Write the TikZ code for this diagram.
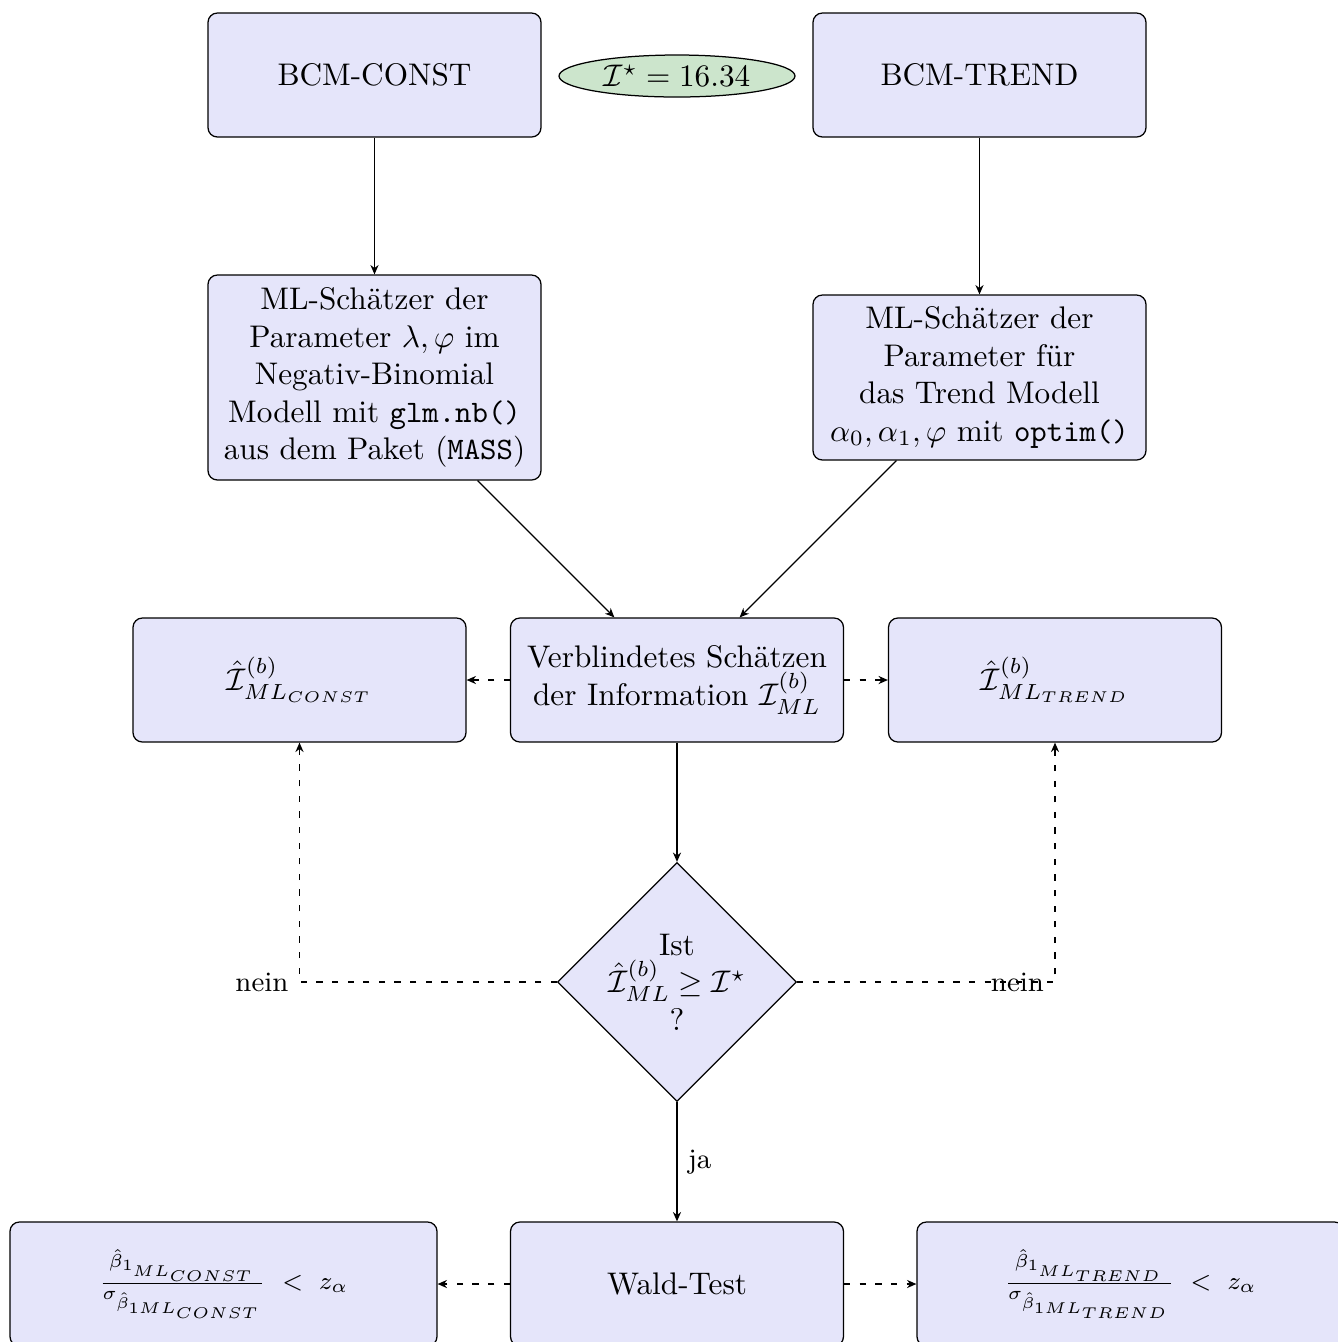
\documentclass[tikz,border=0pt]{standalone}
\usetikzlibrary{shapes.geometric,arrows.meta}
\definecolor{boxblue}{rgb}{0.898,0.898,0.98}
\definecolor{ellgreen}{rgb}{0.80,0.90,0.80}
\begin{document}
\begin{tikzpicture}[x=0.32pt,y=-0.32pt,
  box/.style={draw,fill=boxblue,rounded corners=3pt,align=center,minimum width=106.56pt,minimum height=39.68pt,inner sep=2pt},
  widebox/.style={box,minimum width=136.64pt,font=\footnotesize},
  decision/.style={draw,fill=boxblue,diamond,aspect=1,inner sep=0pt,minimum width=76.48pt,minimum height=76.48pt},
  goal/.style={draw,fill=ellgreen,ellipse,inner sep=0pt,minimum width=75.52pt,minimum height=13.44pt},
  lbl/.style={font=\small},
  arr/.style={-{Stealth[length=3pt,width=2.6pt]}},
  darr/.style={arr,dash pattern=on 2pt off 3pt}]
\useasboundingbox (0,0) rectangle (1338,1342);
\node[box] (bc) at (374.5,75) {BCM-CONST};
\node[goal] (goal) at (677,76) {$\mathcal{I}^\star = 16.34$};
\node[box] (bt) at (979.5,75) {BCM-TREND};
\node[box,minimum height=65.6pt] (mlc) at (374.5,377.5) {ML-Schätzer der\\ Parameter $\lambda,\varphi$ im\\ Negativ-Binomial\\ Modell mit \texttt{glm.nb()}\\ aus dem Paket (\texttt{MASS})};
\node[box,minimum height=52.8pt] (mlt) at (979.5,377.5) {ML-Schätzer der\\ Parameter für\\ das Trend Modell\\ $\alpha_0,\alpha_1,\varphi$ mit \texttt{optim()}};
\node[box] (ic) at (299.5,680) {$\hat{\mathcal{I}}^{(b)}_{ML_{CONST}}$};
\node[box] (verb) at (677,680) {Verblindetes Schätzen\\ der Information $\mathcal{I}^{(b)}_{ML}$};
\node[box] (it) at (1055,680) {$\hat{\mathcal{I}}^{(b)}_{ML_{TREND}}$};
\node[decision] (dec) at (677,982) {};
\node[align=center,inner sep=0pt] (dectext) at (dec.center) {Ist\\ $\hat{\mathcal{I}}^{(b)}_{ML}\geq\mathcal{I}^\star$\\ ?};
\node[box] (wald) at (677,1284) {Wald-Test};
\node[widebox] (lb) at (223.5,1284) {$\frac{\hat\beta_{1_{ML_{CONST}}}}{\sigma_{\hat\beta_{1ML_{CONST}}}}\ <\ z_\alpha$};
\node[widebox] (rb) at (1130.5,1284) {$\frac{\hat\beta_{1_{ML_{TREND}}}}{\sigma_{\hat\beta_{1ML_{TREND}}}}\ <\ z_\alpha$};
\draw[arr] (bc) -- (mlc);
\draw[arr] (bt) -- (mlt);
\draw[arr] (mlc) -- (verb);
\draw[arr] (mlt) -- (verb);
\draw[darr] (verb) -- (ic);
\draw[darr] (verb) -- (it);
\draw[arr] (verb) -- (dec);
\draw[darr] (dec.west) -| node[pos=0.5,left,lbl] {nein} (ic.south);
\draw[darr] (dec.east) -| node[pos=0.5,left,lbl] {nein} (it.south);
\draw[arr] (dec) -- node[right,lbl] {ja} (wald);
\draw[darr] (wald) -- (lb);
\draw[darr] (wald) -- (rb);
\end{tikzpicture}
\end{document}
